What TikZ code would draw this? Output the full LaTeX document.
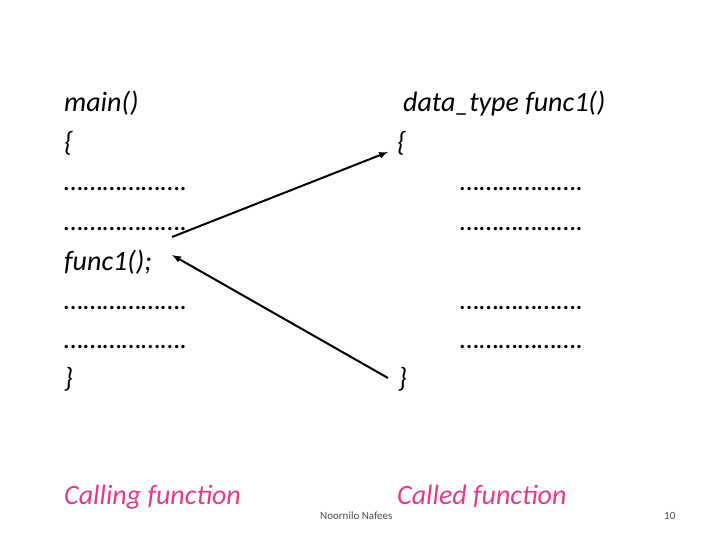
\documentclass[tikz,border=0pt]{standalone}
\usepackage{fontspec}
\setmainfont{Carlito}
\usetikzlibrary{positioning}
\definecolor{pinkish}{RGB}{228,58,140}
\begin{document}
\begin{tikzpicture}[x=1pt,y=-1pt]
\tikzset{code/.style={anchor=base west, inner sep=0pt, font=\fontsize{28}{32}\selectfont\itshape}} % code lines
\tikzset{caption/.style={code, text=pinkish}} % pink captions
\tikzset{small/.style={anchor=base west, inner sep=0pt, font=\fontsize{11}{13}\selectfont, text=black!70}}
\useasboundingbox (0,0) rectangle (720,540);
% calling side
\node[code] (m1) at (64,112) {main()};
\node[code] (m2) at (64,152) {\{};
\node[code] (m3) at (64,191) {……………….};
\node[code] (m4) at (64,230) {……………….};
\node[code] (call) at (64,270) {func1();};
\node[code] (m6) at (64,309) {……………….};
\node[code] (m7) at (64,348) {……………….};
\node[code] (m8) at (64,387) {\}};
% called side
\node[code] (f1) at (403,112) {data\_type func1()};
\node[code] (open) at (397,152) {\{};
\node[code] (f3) at (460,191) {……………….};
\node[code] (f4) at (460,230) {……………….};
\node[code] (f6) at (460,309) {……………….};
\node[code] (f7) at (460,348) {……………….};
\node[code] (close) at (398,387) {\}};
% captions
\node[caption] (c1) at (64,504) {Calling function};
\node[caption] (c2) at (397,504) {Called function};
\node[small] (auth) at (320,519) {Noornilo Nafees};
\node[small] (page) at (664,519) {10};
% arrows
\coordinate (a1) at (172,237);
\coordinate (a2) at (388,152);
\coordinate (b1) at (388,378);
\coordinate (b2) at (172,255);
\draw[-latex, line width=2pt] (a1) -- (a2);
\draw[-latex, line width=2pt] (b1) -- (b2);
\end{tikzpicture}
\end{document}
